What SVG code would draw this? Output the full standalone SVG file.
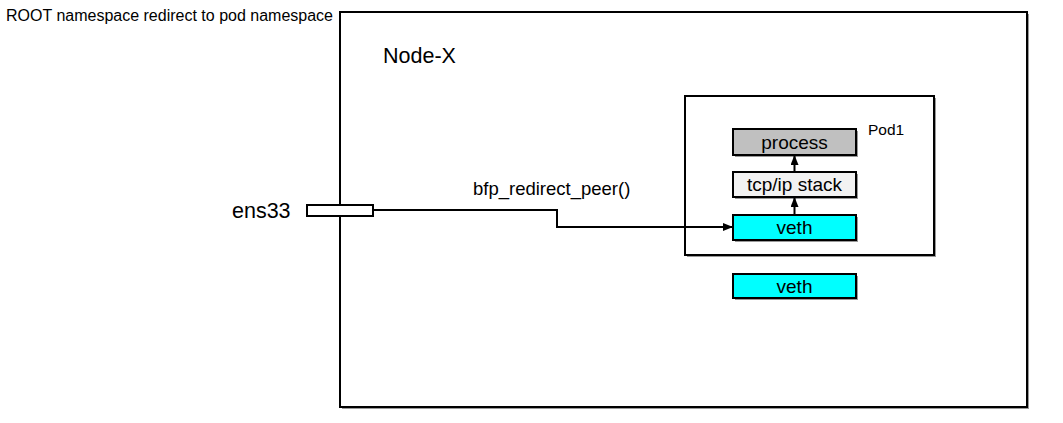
<svg xmlns="http://www.w3.org/2000/svg" width="1063" height="423" viewBox="0 0 1063 423">
<style>
text{font-family:"Liberation Sans",Arial,sans-serif;fill:#000}
.box{stroke:#000;stroke-width:2}
.shadow{fill:#999}
.lbl{font-size:19px;text-anchor:middle}
.conn{fill:none;stroke:#000;stroke-width:2}
</style>
<defs>
<marker id="ah" markerWidth="10" markerHeight="8" refX="9" refY="4" orient="auto" markerUnits="userSpaceOnUse">
<path d="M0,0 L10,4 L0,8 z" fill="#000"/>
</marker>
</defs>
<rect width="1063" height="423" fill="#fff"/>
<text x="6" y="21" font-size="16">ROOT namespace redirect to pod namespace</text>
<g id="node-x">
<rect x="342" y="14" width="687" height="395" class="shadow"/>
<rect x="340" y="12" width="687" height="395" fill="#fff" class="box"/>
<text x="383" y="63" font-size="21.5">Node-X</text>
</g>
<g id="pod1">
<rect x="687" y="98" width="249" height="159" class="shadow"/>
<rect x="685" y="96" width="249" height="159" fill="#fff" class="box"/>
<text x="868" y="135" font-size="15.5">Pod1</text>
</g>
<g id="process">
<rect x="735" y="131" width="123" height="26" class="shadow"/>
<rect x="733" y="129" width="123" height="26" fill="#c0c0c0" class="box"/>
<text x="794.5" y="149" class="lbl">process</text>
</g>
<g id="tcpip">
<rect x="735" y="174" width="123" height="25" class="shadow"/>
<rect x="733" y="172" width="123" height="25" fill="#f2f2f2" class="box"/>
<text x="794.5" y="191" class="lbl">tcp/ip stack</text>
</g>
<g id="veth-pod">
<rect x="735" y="217" width="123" height="25" class="shadow"/>
<rect x="733" y="215" width="123" height="25" fill="#00ffff" class="box"/>
<text x="794.5" y="234" class="lbl">veth</text>
</g>
<g id="veth-root">
<rect x="735" y="276" width="123" height="24" class="shadow"/>
<rect x="733" y="274" width="123" height="24" fill="#00ffff" class="box"/>
<text x="794.5" y="293" class="lbl">veth</text>
</g>
<g id="ens33">
<rect x="307" y="205" width="66" height="11" fill="#fff" class="box"/>
<text x="232" y="218" font-size="21.5">ens33</text>
</g>
<g id="connectors">
<path d="M373,210 H557 V227 H732" class="conn" marker-end="url(#ah)"/>
<path d="M794.5,215 V198" class="conn" marker-end="url(#ah)"/>
<path d="M794.5,172 V156" class="conn" marker-end="url(#ah)"/>
<text x="473" y="195" font-size="18.5">bfp_redirect_peer()</text>
</g>
</svg>
